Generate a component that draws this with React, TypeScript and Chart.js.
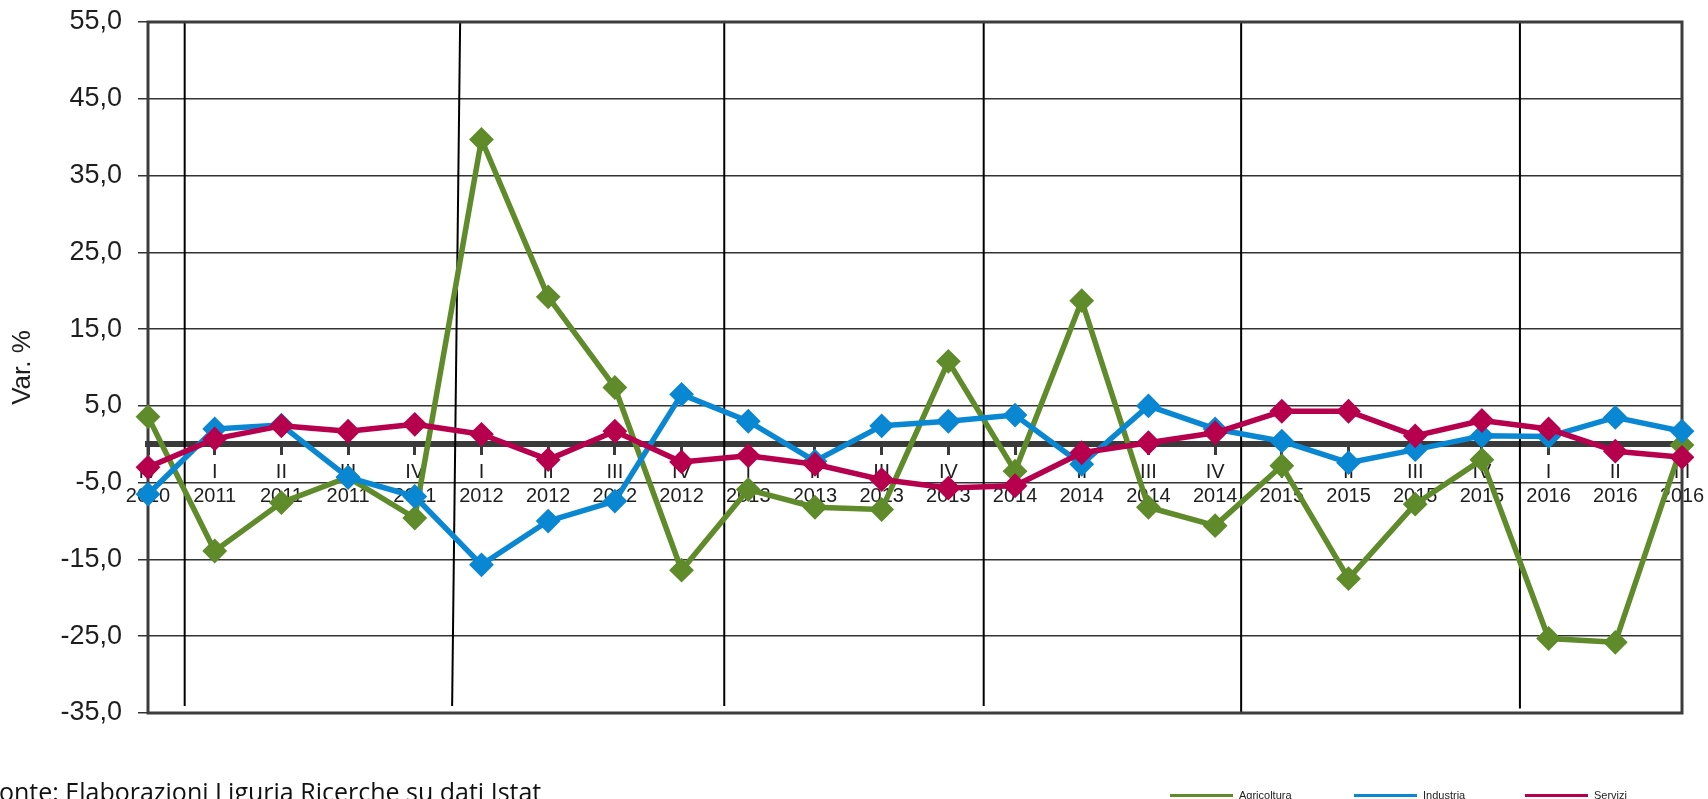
import React, { useEffect, useRef } from 'react';
import { Chart, registerables } from 'chart.js';

Chart.register(...registerables);

// ---- data ----
const quarters = ['IV', 'I', 'II', 'III', 'IV', 'I', 'II', 'III', 'IV', 'I', 'II', 'III', 'IV', 'I', 'II', 'III', 'IV', 'I', 'II', 'III', 'IV', 'I', 'II', 'III'];
const years = ['2010', '2011', '2011', '2011', '2011', '2012', '2012', '2012', '2012', '2013', '2013', '2013', '2013', '2014', '2014', '2014', '2014', '2015', '2015', '2015', '2015', '2016', '2016', '2016'];

const agricoltura = [3.6, -13.9, -7.6, -4.3, -9.6, 39.7, 19.2, 7.4, -16.4, -5.9, -8.2, -8.5, 10.8, -3.5, 18.7, -8.2, -10.6, -2.8, -17.5, -7.8, -2.0, -25.3, -25.8, -0.1];
const industria = [-6.5, 2.0, 2.5, -4.3, -6.8, -15.7, -10.0, -7.4, 6.5, 3.0, -2.2, 2.4, 3.0, 3.8, -2.6, 5.0, 2.0, 0.4, -2.4, -0.7, 1.1, 1.0, 3.5, 1.7];
const servizi = [-3.0, 0.7, 2.4, 1.7, 2.6, 1.3, -2.0, 1.7, -2.3, -1.5, -2.6, -4.6, -5.7, -5.4, -1.1, 0.2, 1.5, 4.3, 4.3, 1.1, 3.1, 2.0, -0.9, -1.7];

const seriesNames = ['Agricoltura', 'Industria', 'Servizi'];
const seriesColors = ['#5f8b2b', '#0a87d3', '#b7004d'];

const yMin = -35;
const yMax = 55;
const yStep = 10;

// year separators (in category-index units; end value in data units)
const separators = [
  { top: 0.55, bottom: 0.55, end: -34.1 },
  { top: 4.68, bottom: 4.56, end: -34.1 },
  { top: 8.64, bottom: 8.64, end: -34.1 },
  { top: 12.53, bottom: 12.53, end: -34.1 },
  { top: 16.39, bottom: 16.39, end: -35 },
  { top: 20.57, bottom: 20.57, end: -34.4 },
];

const sourceText = 'Fonte: Elaborazioni Liguria Ricerche su dati Istat';

const frameAndSeparators = {
  id: 'frameAndSeparators',
  beforeDatasetsDraw(chart: any) {
    const { ctx, chartArea, scales } = chart;
    const x = scales.x;
    const y = scales.y;
    ctx.save();
    ctx.strokeStyle = '#000000';
    ctx.lineWidth = 2;
    for (const s of separators) {
      ctx.beginPath();
      ctx.moveTo(x.getPixelForValue(s.top), chartArea.top);
      ctx.lineTo(x.getPixelForValue(s.bottom), y.getPixelForValue(s.end));
      ctx.stroke();
    }
    ctx.strokeStyle = '#3c3c3c';
    ctx.lineWidth = 3;
    ctx.strokeRect(chartArea.left, chartArea.top, chartArea.right - chartArea.left, chartArea.bottom - chartArea.top);
    ctx.restore();
  },
};

export default function App() {
  const canvasRef = useRef<HTMLCanvasElement | null>(null);

  useEffect(() => {
    if (!canvasRef.current) return;
    const seriesData = [agricoltura, industria, servizi];
    const chart = new Chart(canvasRef.current, {
      type: 'line',
      data: {
        labels: quarters.map((q, i) => [q, years[i]]),
        datasets: seriesNames.map((name, i) => ({
          label: name,
          data: seriesData[i],
          borderColor: seriesColors[i],
          backgroundColor: seriesColors[i],
          borderWidth: 5.5,
          borderJoinStyle: 'round' as const,
          pointStyle: 'rectRot' as const,
          pointRadius: 11,
          pointBorderWidth: 2,
          pointBackgroundColor: seriesColors[i],
          pointBorderColor: seriesColors[i],
          tension: 0,
          fill: false,
          order: 3 - i,
        })),
      },
      options: {
        animation: false,
        responsive: false,
        layout: { padding: { left: 0, top: 22, right: 26, bottom: 86 } },
        plugins: { legend: { display: false }, tooltip: { enabled: false } },
        scales: {
          x: {
            type: 'category',
            position: { y: 0 } as any,
            offset: false,
            grid: { drawOnChartArea: false, drawTicks: true, tickLength: 8, tickWidth: 3, tickColor: '#3a3a3a' },
            border: { display: true, color: '#3a3a3a', width: 6 },
            ticks: {
              color: '#1e1e1e',
              font: { family: '"Liberation Sans", Arial, sans-serif', size: 20, lineHeight: 1.2 },
              padding: 8,
              maxRotation: 0,
              autoSkip: false,
            },
            afterFit: (s: any) => {
              s.height = 0;
              s.paddingLeft = 0;
              s.paddingRight = 0;
            },
          },
          y: {
            min: yMin,
            max: yMax,
            ticks: {
              stepSize: yStep,
              callback: (v: any) => Number(v).toFixed(1).replace('.', ','),
              color: '#1e1e1e',
              font: { family: '"Liberation Sans", Arial, sans-serif', size: 27 },
              padding: 16,
            },
            grid: { color: '#333333', lineWidth: 1.5, tickLength: 10, tickColor: '#333333' },
            border: { display: false },
            title: {
              display: true,
              text: 'Var. %',
              color: '#1e1e1e',
              font: { family: '"Liberation Sans", Arial, sans-serif', size: 26 },
              padding: { top: 7, bottom: 0 },
            },
            afterFit: (s: any) => {
              s.width = 148;
              s.paddingTop = 0;
              s.paddingBottom = 0;
            },
          },
        },
      },
      plugins: [frameAndSeparators],
    });
    return () => chart.destroy();
  }, []);

  const legendPos = [1170, 1354, 1525];

  return (
    <div style={{ position: 'fixed', left: 0, top: 0, width: 1708, height: 799, overflow: 'hidden', background: '#fff' }}>
      <canvas ref={canvasRef} width={1708} height={799} style={{ position: 'absolute', left: 0, top: 0, width: 1708, height: 799 }} />
      <div style={{ position: 'absolute', left: -14, top: 777, fontFamily: '"Open Sans", sans-serif', fontSize: 25, lineHeight: '28px', color: '#111', whiteSpace: 'nowrap' }}>
        {sourceText}
      </div>
      {seriesNames.map((name, i) => (
        <div key={name} style={{ position: 'absolute', left: legendPos[i], top: 787, height: 16, display: 'flex', alignItems: 'center', whiteSpace: 'nowrap' }}>
          <div style={{ width: 63, height: 3, background: seriesColors[i], marginRight: 6 }} />
          <span style={{ fontFamily: '"Liberation Sans", Arial, sans-serif', fontSize: 11, color: '#222' }}>{name}</span>
        </div>
      ))}
    </div>
  );
}
